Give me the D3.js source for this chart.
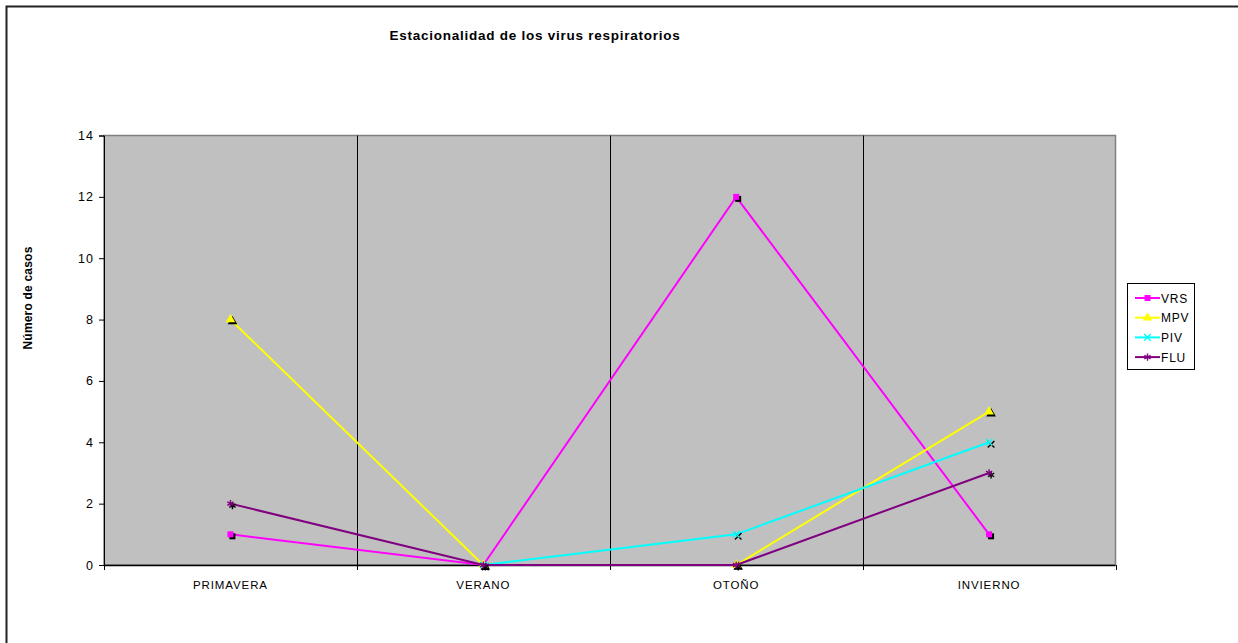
<!DOCTYPE html>
<html>
<head>
<meta charset="utf-8">
<script src="https://cdn.jsdelivr.net/npm/d3@7"></script>
<style>
  html, body { margin: 0; padding: 0; background: #fff; }
  svg { display: block; font-family: Arial, "Liberation Sans", sans-serif; }
</style>
</head>
<body>
<svg id="chart" width="1238" height="643"></svg>
<script>
// Seasons on the category axis
const seasons = ["PRIMAVERA", "VERANO", "OTOÑO", "INVIERNO"];
// Cases per season for each virus (null = no point recorded)
const vrs = [1, 0, 12, 1];
const mpv = [8, 0, 0, 5];
const piv = [null, 0, 1, 4];
const flu = [2, 0, 0, 3];
const seriesNames = ["VRS", "MPV", "PIV", "FLU"];
const seriesColors = ["#ff00ff", "#ffff00", "#00ffff", "#800080"];
const seriesSymbols = ["square", "triangle", "cross", "star"];
const yTicks = [0, 2, 4, 6, 8, 10, 12, 14];

const series = [vrs, mpv, piv, flu].map((values, i) => ({
  name: seriesNames[i], values, color: seriesColors[i], symbol: seriesSymbols[i]
}));

const svg = d3.select("#chart");
const plot = { left: 104, right: 1115.5, top: 135.5, bottom: 565 };

// outer frame of the chart
svg.append("rect")
  .attr("x", 6.5).attr("y", 6.5).attr("width", 1260).attr("height", 660)
  .attr("fill", "#fff").attr("stroke", "#222").attr("stroke-width", 2);

const x = d3.scaleBand().domain(seasons).range([plot.left, plot.right]).padding(0);
const y = d3.scaleLinear().domain([0, 14]).range([plot.bottom, plot.top]);

// plot background
svg.append("rect")
  .attr("x", plot.left).attr("y", plot.top)
  .attr("width", plot.right - plot.left).attr("height", plot.bottom - plot.top)
  .attr("fill", "#c0c0c0").attr("stroke", "#808080").attr("stroke-width", 1.5);

// vertical separators between seasons
svg.append("g").selectAll("line")
  .data(seasons.slice(1))
  .join("line")
  .attr("x1", d => Math.round(x(d)) + 0.5).attr("x2", d => Math.round(x(d)) + 0.5)
  .attr("y1", plot.top).attr("y2", plot.bottom)
  .attr("stroke", "#000").attr("stroke-width", 1);

// y axis
const yAxis = svg.append("g")
  .attr("transform", `translate(${plot.left},0)`)
  .call(d3.axisLeft(y).tickValues(yTicks).tickSize(5).tickPadding(5).tickFormat(d3.format("d")));
yAxis.select(".domain").attr("stroke", "#000");
yAxis.selectAll(".tick line").attr("stroke", "#000");
yAxis.selectAll("text").attr("font-size", 12.5).attr("fill", "#000")
  .attr("letter-spacing", 1)
  .attr("font-family", "Arial, 'Liberation Sans', sans-serif");

// x axis with ticks between categories
const xAxis = svg.append("g").attr("transform", `translate(0,${plot.bottom})`);
xAxis.append("line")
  .attr("x1", plot.left).attr("x2", plot.right)
  .attr("y1", 0.5).attr("y2", 0.5).attr("stroke", "#000").attr("stroke-width", 1.5);
const bounds = seasons.map(d => x(d)).concat([plot.right]);
xAxis.selectAll("line.tk").data(bounds).join("line").attr("class", "tk")
  .attr("x1", d => Math.round(d) + 0.5).attr("x2", d => Math.round(d) + 0.5)
  .attr("y1", 0).attr("y2", 5).attr("stroke", "#000");
xAxis.selectAll("text").data(seasons).join("text")
  .attr("x", d => x(d) + x.bandwidth() / 2)
  .attr("y", 24)
  .attr("text-anchor", "middle")
  .attr("font-size", 11.5)
  .attr("letter-spacing", 0.9)
  .attr("fill", "#000")
  .text(d => d);

// title
svg.append("text")
  .attr("x", 535).attr("y", 40)
  .attr("text-anchor", "middle")
  .attr("font-size", 13.5).attr("font-weight", "bold")
  .attr("letter-spacing", 0.75)
  .text("Estacionalidad de los virus respiratorios");

// y axis title
svg.append("text")
  .attr("transform", `translate(32,298) rotate(-90)`)
  .attr("text-anchor", "middle")
  .attr("font-size", 12).attr("font-weight", "bold")
  .attr("letter-spacing", 0.2)
  .text("Número de casos");

const symbolType = {
  square: d3.symbolSquare,
  triangle: d3.symbolTriangle,
  cross: d3.symbolX,
  star: d3.symbolAsterisk
};
const symbolSize = { square: 36, triangle: 40, cross: 30, star: 36 };

function drawMarker(g, s, cx, cy, shadow) {
  const path = d3.symbol().type(symbolType[s.symbol]).size(symbolSize[s.symbol])();
  const filled = s.symbol === "square" || s.symbol === "triangle";
  if (shadow) {
    g.append("path").attr("d", path)
      .attr("transform", `translate(${cx + 2},${cy + 2})`)
      .attr("fill", filled ? "#000" : "none")
      .attr("stroke", "#000").attr("stroke-width", filled ? 0 : 1.4);
  }
  g.append("path").attr("d", path)
    .attr("transform", `translate(${cx},${cy})`)
    .attr("fill", filled ? s.color : "none")
    .attr("stroke", s.color).attr("stroke-width", filled ? 0 : 1.4);
}

const line = d3.line()
  .defined(d => d != null)
  .x((d, i) => x(seasons[i]) + x.bandwidth() / 2)
  .y(d => y(d));

const lines = svg.append("g");
series.forEach(s => {
  const g = lines.append("g");
  g.append("path")
    .attr("d", line(s.values))
    .attr("fill", "none")
    .attr("stroke", s.color)
    .attr("stroke-width", 2);
  s.values.forEach((v, i) => {
    if (v == null) return;
    drawMarker(g, s, x(seasons[i]) + x.bandwidth() / 2, y(v), true);
  });
});

// legend
const legend = svg.append("g");
const lg = { x: 1127, y: 283.5, w: 67, h: 86 };
legend.append("rect")
  .attr("x", lg.x + 0.5).attr("y", lg.y).attr("width", lg.w).attr("height", lg.h)
  .attr("fill", "#fff").attr("stroke", "#000").attr("stroke-width", 1);
series.forEach((s, i) => {
  const cy = 298 + i * 19.7;
  legend.append("line")
    .attr("x1", 1135).attr("x2", 1160).attr("y1", cy).attr("y2", cy)
    .attr("stroke", s.color).attr("stroke-width", 2);
  drawMarker(legend, s, 1147.5, cy, false);
  legend.append("text")
    .attr("x", 1161).attr("y", cy + 4.5)
    .attr("font-size", 12).attr("fill", "#000")
    .attr("letter-spacing", 0.8)
    .text(s.name);
});
</script>
</body>
</html>
